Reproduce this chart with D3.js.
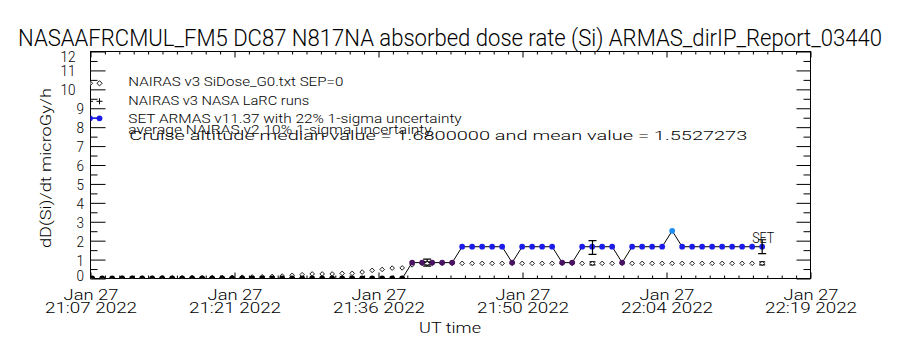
<!DOCTYPE html>
<html><head><meta charset="utf-8">
<script src="https://cdn.jsdelivr.net/npm/d3@7"></script>
<style>
body{margin:0;background:#fff}
svg{display:block;background:#fff}
text{font-family:Roboto,"DejaVu Sans",sans-serif;font-weight:300;fill:#000}
</style></head>
<body><svg id="c" width="900" height="350"></svg>
<script>
// ---------- data ----------
const titleText = "NASAAFRCMUL_FM5 DC87 N817NA absorbed dose rate (Si) ARMAS_dirIP_Report_03440";
const yTitle = "dD(Si)/dt microGy/h";
const xTitle = "UT time";
const xDomain = ["2022-01-27T21:07:12Z", "2022-01-27T22:19:12Z"];
const xTickTimes = ["2022-01-27T21:07:12Z","2022-01-27T21:21:36Z","2022-01-27T21:36:00Z","2022-01-27T21:50:24Z","2022-01-27T22:04:48Z","2022-01-27T22:19:12Z"];
const xTickDay = ["Jan 27","Jan 27","Jan 27","Jan 27","Jan 27","Jan 27"];
const xTickClock = ["21:07 2022","21:21 2022","21:36 2022","21:50 2022","22:04 2022","22:19 2022"];
const yTicks = [0,1,2,3,4,5,6,7,8,9,10,11,12];
const yMinorTicks = [0.5,1.5,2.5,3.5,4.5,5.5,6.5,7.5,8.5,9.5,10.5,11.5];

// one-minute samples starting at this time
const sampleStart = "2022-01-27T21:07:22Z";
const armasDose = [
  0,0,0,0,0,0,0,0,0,0, 0,0,0,0,0,0,0,0,0,0, 0,0,0,0,0,0,0,0,0,0, 0,0,
  0.84,0.84,0.84,0.84,0.84,
  1.68,1.68,1.68,1.68,1.68,
  0.84,
  1.68,1.68,1.68,1.68,
  0.84,0.84,
  1.68,1.68,1.68,1.68,
  0.84,
  1.68,1.68,1.68,1.68,
  2.52,
  1.68,1.68,1.68,1.68,1.68,1.68,1.68,1.68,1.68
];
const nairasDose = [
  0.01,0.01,0.01,0.02,0.02,0.02,0.02,0.03,0.03,0.03,
  0.04,0.04,0.05,0.05,0.06,0.07,0.08,0.09,0.11,
  0.13,0.17,0.20,0.24,0.24,0.24,0.27,0.27,0.34,0.43,0.48,0.55,0.56,
  0.72,
  0.80,0.80,0.80,0.80,0.80,0.80,0.80,0.80,0.80,0.80,0.80,0.80,0.80,0.80,0.80,0.80,0.80,0.80,
  0.80,0.80,0.80,0.80,0.80,0.80,0.80,0.80,0.80,0.80,0.80,0.80,0.80,0.80,0.80,0.80,0.80
];
const avgTimes = ["2022-01-27T21:40:52Z","2022-01-27T21:57:24Z","2022-01-27T22:14:22Z"];
const armasAvg = [0.84, 1.64, 1.68];
const nairasAvg = [0.80, 0.80, 0.80];
const armasSigma = 0.22;
const nairasSigma = 0.10;
const legendLabels = [
  "NAIRAS v3 SiDose_G0.txt SEP=0",
  "NAIRAS v3 NASA LaRC runs",
  "SET ARMAS v11.37 with 22% 1-sigma uncertainty",
  "average NAIRAS v2 10% 1-sigma uncertainty",
  "Cruise altitude median value = 1.6800000 and mean value = 1.5527273"
];
const endLabel = "SET";

// ---------- layout ----------
const L = 90.5, R = 810.5, T = 51.5, B = 278.5;
const parse = d3.utcParse("%Y-%m-%dT%H:%M:%SZ");
const x = d3.scaleUtc().domain(xDomain.map(parse)).range([L, R]);
const y = d3.scaleLinear().domain([0, 12]).range([B, T]);
const color = d3.scaleThreshold().domain([0.4, 1.2, 2.1])
  .range(["#000000", "#4a1262", "#1c1ce8", "#1f8ef2"]);

const t0 = parse(sampleStart);
const samples = armasDose.map((v, i) => ({
  t: new Date(t0.getTime() + i * 60000), a: v, n: nairasDose[i]
}));

const svg = d3.select("#c");

// title
svg.append("text").attr("x", 18).attr("y", 45.5)
  .attr("font-size", 24).attr("textLength", 864).attr("lengthAdjust", "spacingAndGlyphs")
  .text(titleText);

// ---------- axes ----------
const majorDates = xTickTimes.map(parse);
const minorDates = [];
for (let k = 0; k < majorDates.length - 1; k++) {
  const a = majorDates[k].getTime(), b = majorDates[k + 1].getTime();
  for (let j = 1; j < 10; j++) minorDates.push(new Date(a + (b - a) * j / 10));
}

function styleAxis(g) {
  g.select(".domain").remove();
  g.selectAll("line").attr("stroke", "#000").attr("stroke-width", 1);
  g.attr("font-family", null).attr("font-size", null);
}

// bottom
svg.append("g").attr("transform", `translate(0,${B})`)
  .call(d3.axisBottom(x).tickValues(majorDates).tickSize(-6).tickFormat(() => ""))
  .call(styleAxis)
  .call(g => g.selectAll(".tick").each(function (d, i) {
    const s = d3.select(this);
    s.select("text").remove();
    s.append("text").attr("y", 299.5 - B).attr("text-anchor", "middle")
      .attr("font-size", 15).attr("textLength", 55).attr("lengthAdjust", "spacingAndGlyphs")
      .text(xTickDay[i]);
    s.append("text").attr("y", 312.7 - B).attr("text-anchor", "middle")
      .attr("font-size", 15).attr("textLength", 92).attr("lengthAdjust", "spacingAndGlyphs")
      .text(xTickClock[i]);
  }));
svg.append("g").attr("transform", `translate(0,${B})`)
  .call(d3.axisBottom(x).tickValues(minorDates).tickSize(-3).tickFormat(() => ""))
  .call(styleAxis).call(g => g.selectAll("text").remove());
// top
svg.append("g").attr("transform", `translate(0,${T})`)
  .call(d3.axisTop(x).tickValues(majorDates).tickSize(-6).tickFormat(() => ""))
  .call(styleAxis).call(g => g.selectAll("text").remove());
svg.append("g").attr("transform", `translate(0,${T})`)
  .call(d3.axisTop(x).tickValues(minorDates).tickSize(-3).tickFormat(() => ""))
  .call(styleAxis).call(g => g.selectAll("text").remove());
// left
svg.append("g").attr("transform", `translate(${L},0)`)
  .call(d3.axisLeft(y).tickValues(yTicks).tickSize(-15).tickPadding(0).tickFormat(d3.format("d")))
  .call(styleAxis)
  .call(g => g.selectAll("text").each(function (d) {
    const s = d3.select(this);
    const two = String(d).length > 1;
    let dy = 5.5;
    if (d === 0) dy = 1.5;
    if (d === 12) dy = 9.5;
    s.attr("x", two ? 75.5 - L : 84 - L).attr("dy", null).attr("y", dy)
      .attr("font-size", 15.5).attr("text-anchor", "end")
      .attr("textLength", two ? 15 : 7.5).attr("lengthAdjust", "spacingAndGlyphs");
  }));
svg.append("g").attr("transform", `translate(${L},0)`)
  .call(d3.axisLeft(y).tickValues(yMinorTicks).tickSize(-7).tickFormat(() => ""))
  .call(styleAxis).call(g => g.selectAll("text").remove());
// right
svg.append("g").attr("transform", `translate(${R},0)`)
  .call(d3.axisRight(y).tickValues(yTicks).tickSize(-14).tickFormat(() => ""))
  .call(styleAxis).call(g => g.selectAll("text").remove());
svg.append("g").attr("transform", `translate(${R},0)`)
  .call(d3.axisRight(y).tickValues(yMinorTicks).tickSize(-7).tickFormat(() => ""))
  .call(styleAxis).call(g => g.selectAll("text").remove());

// frame
svg.append("rect").attr("x", L).attr("y", T).attr("width", R - L).attr("height", B - T)
  .attr("fill", "none").attr("stroke", "#000").attr("stroke-width", 1);

// axis titles
svg.append("text").attr("transform", "translate(50.5,168) rotate(-90)")
  .attr("text-anchor", "middle").attr("font-size", 15.5)
  .attr("textLength", 160).attr("lengthAdjust", "spacingAndGlyphs").text(yTitle);
svg.append("text").attr("x", 450).attr("y", 333).attr("text-anchor", "middle")
  .attr("font-size", 15.5).attr("textLength", 62).attr("lengthAdjust", "spacingAndGlyphs").text(xTitle);

// ---------- plot ----------
svg.append("clipPath").attr("id", "clip").append("rect")
  .attr("x", L).attr("y", T).attr("width", R - L).attr("height", B - T);
const plot = svg.append("g").attr("clip-path", "url(#clip)");

const diamond = (cx, cy, r) => `M${cx},${cy - r}L${cx + r},${cy}L${cx},${cy + r}L${cx - r},${cy}Z`;

// NAIRAS diamonds
plot.selectAll("path.nai").data(samples).join("path").attr("class", "nai")
  .attr("d", d => diamond(x(d.t), y(d.n), 2.3))
  .attr("fill", "#fff").attr("stroke", "#000").attr("stroke-width", 0.9);

// ARMAS line
plot.append("path").datum(samples)
  .attr("d", d3.line().x(d => x(d.t)).y(d => y(d.a)))
  .attr("fill", "none").attr("stroke", "#000").attr("stroke-width", 1);

// ARMAS dots
plot.selectAll("circle.arm").data(samples).join("circle").attr("class", "arm")
  .attr("cx", d => x(d.t)).attr("cy", d => y(d.a)).attr("r", 2.9)
  .attr("fill", d => color(d.a));

// averages with error bars
const avg = avgTimes.map((t, i) => ({ t: parse(t), a: armasAvg[i], n: nairasAvg[i] }));
function errBar(g, cx, v, sig, hw) {
  const y1 = y(v * (1 - sig)), y2 = y(v * (1 + sig));
  g.append("line").attr("x1", cx).attr("x2", cx).attr("y1", y1).attr("y2", y2);
  g.append("line").attr("x1", cx - hw).attr("x2", cx + hw).attr("y1", y1).attr("y2", y1);
  g.append("line").attr("x1", cx - hw).attr("x2", cx + hw).attr("y1", y2).attr("y2", y2);
}
const eb = plot.append("g").attr("stroke", "#000").attr("stroke-width", 1.2);
avg.forEach(d => {
  const cx = x(d.t);
  errBar(eb, cx, d.n, nairasSigma, 3);
  errBar(eb, cx, d.a, armasSigma, 4);
});
plot.selectAll("path.navg").data(avg).join("path").attr("class", "navg")
  .attr("d", d => diamond(x(d.t), y(d.n), 1.6))
  .attr("fill", "#fff").attr("stroke", "none");

// end label
const last = samples[samples.length - 1];
svg.append("text").attr("x", x(last.t) - 10).attr("y", y(last.a) - 4)
  .attr("font-size", 14.5).attr("textLength", 22).attr("lengthAdjust", "spacingAndGlyphs")
  .text(endLabel);

// ---------- legend ----------
const leg = svg.append("g").attr("clip-path", "url(#clip)");
[90, 99.5].forEach(cx => {
  leg.append("path").attr("d", diamond(cx, 83.3, 2.6))
    .attr("fill", "#fff").attr("stroke", "#000").attr("stroke-width", 0.9);
  leg.append("path").attr("d", `M${cx - 3},101.3H${cx + 3}M${cx},98.3V104.3`)
    .attr("stroke", "#000").attr("stroke-width", 1);
});
leg.append("line").attr("x1", 90).attr("x2", 99.5).attr("y1", 118.3).attr("y2", 118.3)
  .attr("stroke", "#1c1ce8").attr("stroke-width", 1.5);
[90, 99.5].forEach(cx => leg.append("circle").attr("cx", cx).attr("cy", 118.3).attr("r", 2.9)
  .attr("fill", "#1c1ce8"));

const legendPos = [
  { x: 128.3, y: 86, w: 215 },
  { x: 128.3, y: 104.5, w: 181 },
  { x: 128.3, y: 123.3, w: 333.4 },
  { x: 128.3, y: 134.3, w: 303.4 },
  { x: 129.3, y: 139.5, w: 618 }
];
legendLabels.forEach((t, i) => {
  const p = legendPos[i];
  svg.append("text").attr("x", p.x).attr("y", p.y).attr("font-size", 13)
    .attr("textLength", p.w).attr("lengthAdjust", "spacingAndGlyphs").text(t);
});
</script></body></html>
